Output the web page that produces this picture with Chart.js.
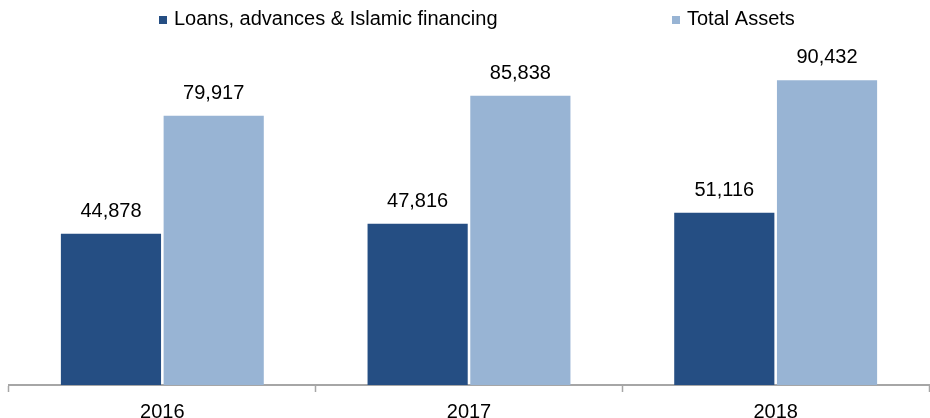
<!DOCTYPE html>
<html>
<head>
<meta charset="utf-8">
<script src="https://cdn.jsdelivr.net/npm/chart.js@4"></script>
<style>
  html, body { margin: 0; padding: 0; background: #ffffff; }
  #wrap { width: 930px; height: 418px; }
</style>
</head>
<body>
<div id="wrap"><canvas id="c" width="930" height="418"></canvas></div>
<script>
const categories = ["2016", "2017", "2018"];
const seriesNames = ["Loans, advances & Islamic financing", "Total Assets"];
const loansValues = [44878, 47816, 51116];
const assetsValues = [79917, 85838, 90432];
const seriesColors = ["#254E83", "#98B4D4"];

const FONT = "'Liberation Sans', Arial, sans-serif";

const valueLabels = {
  id: 'valueLabels',
  afterDatasetsDraw(chart) {
    const ctx = chart.ctx;
    ctx.save();
    ctx.font = "20px " + FONT;
    ctx.fillStyle = "#000000";
    ctx.textAlign = "center";
    ctx.textBaseline = "alphabetic";
    chart.data.datasets.forEach((ds, di) => {
      const meta = chart.getDatasetMeta(di);
      meta.data.forEach((el, i) => {
        const v = ds.data[i];
        ctx.fillText(v.toLocaleString('en-US'), el.x, el.y - 17);
      });
    });
    ctx.restore();
  }
};

const customLegend = {
  id: 'customLegend',
  afterDraw(chart, args, opts) {
    const ctx = chart.ctx;
    ctx.save();
    ctx.font = "20px " + FONT;
    ctx.textBaseline = "alphabetic";
    ctx.textAlign = "left";
    chart.data.datasets.forEach((ds, i) => {
      const x = opts.starts[i];
      ctx.fillStyle = ds.backgroundColor;
      ctx.fillRect(x, 16, 8, 8);
      ctx.fillStyle = "#000000";
      ctx.fillText(ds.label, x + 15, 25);
    });
    ctx.restore();
  }
};

new Chart(document.getElementById('c'), {
  type: 'bar',
  data: {
    labels: categories,
    datasets: [
      { label: seriesNames[0], data: loansValues, backgroundColor: seriesColors[0] },
      { label: seriesNames[1], data: assetsValues, backgroundColor: seriesColors[1] }
    ]
  },
  options: {
    responsive: false,
    animation: false,
    layout: { padding: { top: 48, left: 9, right: 1, bottom: -14 } },
    datasets: { bar: { categoryPercentage: 0.67, barPercentage: 0.975 } },
    plugins: {
      legend: { display: false },
      tooltip: { enabled: false },
      customLegend: { starts: [159, 672] }
    },
    scales: {
      x: {
        offset: true,
        grid: {
          display: true,
          offset: true,
          drawOnChartArea: false,
          drawTicks: true,
          tickLength: 7,
          tickWidth: 1.5,
          tickColor: '#A6A6A6',
          color: '#A6A6A6'
        },
        border: { display: true, color: '#A6A6A6', width: 2 },
        ticks: {
          color: '#000000',
          padding: 12,
          font: { family: FONT, size: 20, lineHeight: 0.8 }
        }
      },
      y: {
        display: false,
        min: 0,
        max: 100000
      }
    }
  },
  plugins: [valueLabels, customLegend]
});
</script>
</body>
</html>
